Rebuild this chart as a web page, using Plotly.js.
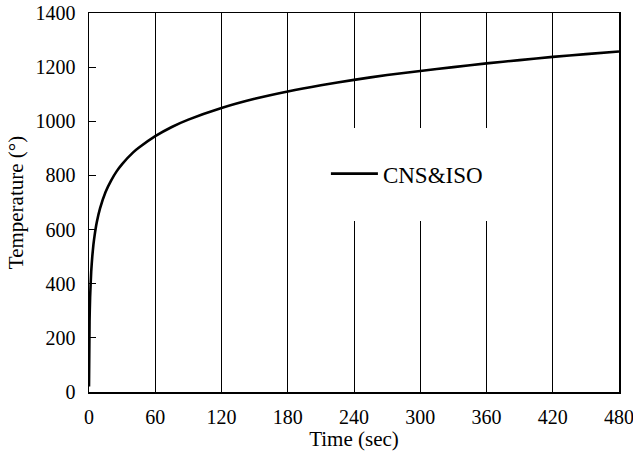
<!DOCTYPE html>
<html>
<head>
<meta charset="utf-8">
<script src="https://cdn.plot.ly/plotly-3.0.1.min.js"></script>
<style>html,body{margin:0;padding:0;background:#fff;}#chart{width:633px;height:460px;}</style>
</head>
<body>
<div id="chart"></div>
<script>
// Values
const timeValues = [0, 0.5, 1, 2, 3, 4, 5, 7, 10, 15, 20, 25, 30, 40, 45, 60, 75, 90, 120, 150, 180, 210, 240, 270, 300, 330, 360, 390, 420, 450, 480];
const tempValues = [20, 261, 349, 445, 502, 544, 576, 626, 678, 739, 781, 815, 842, 885, 902, 945, 979, 1006, 1049, 1083, 1110, 1133, 1153, 1171, 1186, 1200, 1214, 1226, 1238, 1248, 1258];
const seriesName = "CNS&ISO";
const xTicks = [0, 60, 120, 180, 240, 300, 360, 420, 480];
const yTicks = [0, 200, 400, 600, 800, 1000, 1200, 1400];

const fam = "Liberation Serif, Times New Roman, serif";
const font = {family: fam, size: 20, color: "#000"};
const titleFont = {family: fam, size: 21, color: "#000"};
const legendFont = {family: fam, size: 23, color: "#000"};

const trace = {
  x: timeValues, y: tempValues, name: seriesName,
  type: "scatter", mode: "lines",
  line: {color: "#000", width: 2.6, shape: "spline", smoothing: 0.6}
};

const layout = {
  width: 633, height: 460,
  margin: {l: 89, r: 14, t: 13, b: 68},
  paper_bgcolor: "#fff", plot_bgcolor: "#fff",
  font: font,
  showlegend: true,
  legend: {x: 0.447, y: 0.576, xanchor: "left", yanchor: "middle", bgcolor: "rgba(0,0,0,0)", borderwidth: 0, font: legendFont, itemwidth: 47},
  xaxis: {
    range: [0, 480], tickvals: xTicks, ticktext: xTicks.map(String),
    showgrid: true, gridcolor: "#000", gridwidth: 1,
    showline: true, linecolor: "#000", linewidth: 1.5, mirror: true,
    ticks: "", zeroline: false, tickfont: font, ticklabelstandoff: 6,
    ticklabeloverflow: "allow",
    title: {text: "Time (sec)", font: titleFont, standoff: 5}
  },
  yaxis: {
    range: [0, 1400], tickvals: yTicks, ticktext: yTicks.map(String),
    showgrid: false, showline: true, linecolor: "#000", linewidth: 1.5, mirror: true,
    ticks: "inside", ticklen: 7, tickcolor: "#000", tickwidth: 1,
    zeroline: false, tickfont: font, ticklabelstandoff: 8,
    ticklabeloverflow: "allow",
    title: {text: "Temperature (°)", font: titleFont, standoff: 6}
  },
  shapes: [{
    type: "rect", xref: "x", yref: "y", x0: 209, x1: 377, y0: 632, y1: 975,
    fillcolor: "#fff", line: {width: 0}, layer: "above"
  }]
};

Plotly.newPlot("chart", [trace], layout, {staticPlot: true, displayModeBar: false});
</script>
</body>
</html>
